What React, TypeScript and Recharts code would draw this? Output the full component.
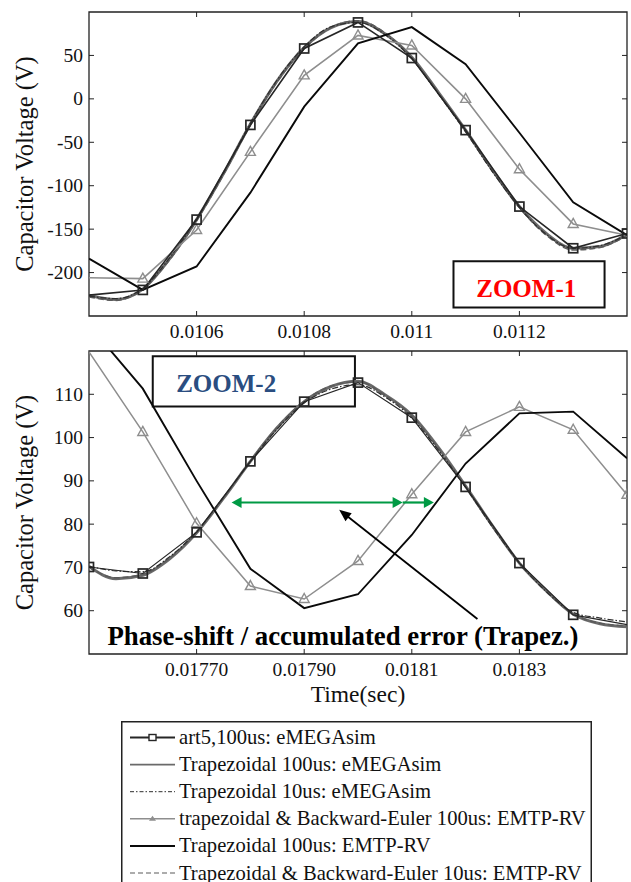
import React from 'react';
import { LineChart, Line, XAxis, YAxis, ReferenceArea, ReferenceLine, ReferenceDot } from 'recharts';

const SERIF = "'Liberation Serif','Times New Roman',serif";

// ---------------- ZOOM-1 (top) ----------------
const t100Zoom1 = [0.0104, 0.0105, 0.0106, 0.0107, 0.0108, 0.0109, 0.011, 0.0111, 0.0112, 0.0113, 0.0114];
const art5Zoom1 = [-226, -220, -139, -30, 58, 88, 47, -36, -124, -172, -155];
const trapBE100EmtpZoom1 = [-206, -207, -151, -61, 27, 73, 61.5, 0, -81, -144, -157];
const trap100EmtpZoom1 = [-184, -220, -193, -108, -9, 64, 82.6, 40, -39, -119, -157];

const t50Zoom1 = [0.0104, 0.01045, 0.0105, 0.01055, 0.0106, 0.01065, 0.0107, 0.01075, 0.0108, 0.01085, 0.0109,
  0.01095, 0.011, 0.01105, 0.0111, 0.01115, 0.0112, 0.01125, 0.0113, 0.01135, 0.0114];
const trap100EmegaZoom1 = [-226, -231, -219, -184, -139, -86, -29, 21, 59, 82, 89, 75, 48, 7, -36, -82, -124, -155, -172, -170, -156];
const trap10EmegaZoom1 = [-227, -230, -218, -183, -138, -85, -28, 22, 60, 83, 88, 74, 46, 5, -38, -84, -125, -156, -172, -169, -156];
const trapBE10EmtpZoom1 = [-228, -232, -219, -185, -140, -87, -30, 20, 58, 82, 90, 76, 47, 6, -37, -83, -125, -157, -174, -171, -157];

const xTicksZoom1 = [0.0106, 0.0108, 0.011, 0.0112];
const xTickLabelsZoom1 = ['0.0106', '0.0108', '0.011', '0.0112'];
const yTicksZoom1 = [-200, -150, -100, -50, 0, 50];

// ---------------- ZOOM-2 (bottom) ----------------
const t100Zoom2 = [0.0175, 0.0176, 0.0177, 0.0178, 0.0179, 0.018, 0.0181, 0.0182, 0.0183, 0.0184, 0.0185];
const art5Zoom2 = [70.1, 68.6, 78.1, 94.5, 108.3, 112.7, 104.6, 88.6, 71, 59.05, 56.8];
const trapBE100EmtpZoom2 = [119.8, 101.3, 80.2, 65.7, 62.7, 71.5, 86.9, 101.3, 107.1, 101.8, 86.8];
const trap100EmtpZoom2 = [126, 111.3, 90, 69.7, 60.6, 63.8, 77.5, 94, 105.6, 106, 95.2];

const t50Zoom2 = [0.0175, 0.01755, 0.0176, 0.01765, 0.0177, 0.01775, 0.0178, 0.01785, 0.0179, 0.01795, 0.018,
  0.01805, 0.0181, 0.01815, 0.0182, 0.01825, 0.0183, 0.01835, 0.0184, 0.01845, 0.0185];
const trap100EmegaZoom2 = [70.2, 67.4, 68.2, 72, 78, 86, 94.5, 102.3, 108.3, 111.8, 113, 109.9, 105.2, 97.6, 88.8, 79.6, 71, 64.6, 59.2, 57, 56.3];
const trap10EmegaZoom2 = [70.3, 69.2, 69, 72.5, 78.3, 86.2, 94.5, 102, 108, 111.2, 112.2, 109.4, 104.5, 97, 88.5, 79.3, 71, 64.4, 59.6, 58.3, 57.4];
const trapBE10EmtpZoom2 = [70.1, 67.6, 68.4, 72.2, 78.1, 86.1, 94.6, 102.4, 108.4, 111.9, 112.9, 109.8, 105, 97.4, 88.6, 79.5, 71.1, 64.5, 59.3, 57.1, 56.5];

const xTicksZoom2 = [0.0177, 0.0179, 0.0181, 0.0183];
const xTickLabelsZoom2 = ['0.01770', '0.01790', '0.0181', '0.0183'];
const yTicksZoom2 = [60, 70, 80, 90, 100, 110];

// ---------------- legend ----------------
const legendNames = [
  'art5,100us: eMEGAsim',
  'Trapezoidal 100us: eMEGAsim',
  'Trapezoidal 10us: eMEGAsim',
  'trapezoidal & Backward-Euler 100us: EMTP-RV',
  'Trapezoidal 100us: EMTP-RV',
  'Trapezoidal & Backward-Euler 10us: EMTP-RV',
];

const C_ART5 = '#262626';
const C_TRAP100EMEGA = '#6a6a6a';
const C_TRAP10EMEGA = '#2e2e2e';
const C_BE100 = '#8e8e8e';
const C_TRAP100EMTP = '#0a0a0a';
const C_BE10 = '#5a5a5a';

const rows = (ts: number[], vs: number[]) => ts.map((t, i) => ({ t, v: vs[i] }));

const squareDot = (hidden: number[]) => (p: any) => {
  const { cx, cy, index } = p;
  if (hidden.includes(index) || cx == null || cy == null) return <g key={`s${index}`} />;
  return <rect key={`s${index}`} x={cx - 4.5} y={cy - 4.5} width={9} height={9} fill="none" stroke={C_ART5} strokeWidth={1.7} />;
};

const triDot = (hidden: number[]) => (p: any) => {
  const { cx, cy, index } = p;
  if (hidden.includes(index) || cx == null || cy == null) return <g key={`t${index}`} />;
  return (
    <path key={`t${index}`} d={`M${cx},${cy - 5.5} L${cx + 5},${cy + 3.5} L${cx - 5},${cy + 3.5} Z`}
      fill="none" stroke={C_BE100} strokeWidth={1.4} />
  );
};

const makeXTick = (labels: string[], plotH: number) => (p: any) => {
  const { x, y, index } = p;
  return (
    <g key={`xt${index}`}>
      <line x1={x} x2={x} y1={y} y2={y - 5} stroke="#222" strokeWidth={1} />
      <line x1={x} x2={x} y1={y - plotH} y2={y - plotH + 5} stroke="#222" strokeWidth={1} />
      <text x={x} y={y + 22} textAnchor="middle" fontSize={19.5} fontFamily={SERIF} fill="#111">{labels[index]}</text>
    </g>
  );
};

const makeYTick = (plotW: number) => (p: any) => {
  const { x, y, payload, index } = p;
  return (
    <g key={`yt${index}`}>
      <line x1={x} x2={x + 5} y1={y} y2={y} stroke="#222" strokeWidth={1} />
      <line x1={x + plotW} x2={x + plotW - 5} y1={y} y2={y} stroke="#222" strokeWidth={1} />
      <text x={x - 6} y={y} dy={6.5} textAnchor="end" fontSize={19.5} fontFamily={SERIF} fill="#111">{payload.value}</text>
    </g>
  );
};

const arrowShape = (color: string, w: number, len: number, half: number, start: boolean, end: boolean) => (p: any) => {
  const { x1, y1, x2, y2 } = p;
  const dx = x2 - x1;
  const dy = y2 - y1;
  const L = Math.sqrt(dx * dx + dy * dy) || 1;
  const ux = dx / L;
  const uy = dy / L;
  const head = (tx: number, ty: number, dirx: number, diry: number) => {
    const bx = tx - dirx * len;
    const by = ty - diry * len;
    const nx = -diry * half;
    const ny = dirx * half;
    return `M${tx},${ty} L${bx + nx},${by + ny} L${bx - nx},${by - ny} Z`;
  };
  return (
    <g>
      <line x1={start ? x1 + ux * len * 0.8 : x1} y1={start ? y1 + uy * len * 0.8 : y1}
        x2={end ? x2 - ux * len * 0.8 : x2} y2={end ? y2 - uy * len * 0.8 : y2} stroke={color} strokeWidth={w} />
      {start && <path d={head(x1, y1, -ux, -uy)} fill={color} stroke="none" />}
      {end && <path d={head(x2, y2, ux, uy)} fill={color} stroke="none" />}
    </g>
  );
};

const textShape = (text: string, color: string, size: number, dyv: number) => (p: any) => (
  <text x={p.cx} y={p.cy} dy={dyv} textAnchor="middle" fontSize={size} fontWeight="bold" fontFamily={SERIF} fill={color}>{text}</text>
);

const TOP_H = 345;
const TOP_MARGIN = { top: 12, right: 4, bottom: 0, left: 0 };
const TOP_XH = 29;
const BOT_H = 375;
const BOT_MARGIN = { top: 11, right: 4, bottom: 0, left: 0 };
const BOT_XH = 61;
const PLOT_W = 631 - 89 - 4;

const yLabel = {
  value: 'Capacitor Voltage (V)', angle: -90, position: 'insideLeft', offset: 24,
  style: { textAnchor: 'middle', fontSize: 24.5, fontFamily: SERIF, fill: '#111' },
} as any;

function TopChart() {
  const plotH = TOP_H - TOP_MARGIN.top - TOP_XH;
  return (
    <LineChart width={631} height={TOP_H} margin={TOP_MARGIN}>
      <XAxis dataKey="t" type="number" domain={[0.0104, 0.0114]} allowDataOverflow ticks={xTicksZoom1} interval={0}
        height={TOP_XH} axisLine={false} tickLine={false} tickSize={0} tickMargin={0} tick={makeXTick(xTickLabelsZoom1, plotH)} />
      <YAxis type="number" domain={[-250, 100]} allowDataOverflow ticks={yTicksZoom1} interval={0} width={89}
        axisLine={false} tickLine={false} tickSize={0} tickMargin={0} tick={makeYTick(PLOT_W)} label={yLabel} />
      <Line data={rows(t50Zoom1, trap100EmegaZoom1)} dataKey="v" type="monotone" stroke={C_TRAP100EMEGA} strokeWidth={3} dot={false} isAnimationActive={false} />
      <Line data={rows(t50Zoom1, trapBE10EmtpZoom1)} dataKey="v" type="monotone" stroke={C_BE10} strokeWidth={1.6} strokeDasharray="6 3" dot={false} isAnimationActive={false} />
      <Line data={rows(t50Zoom1, trap10EmegaZoom1)} dataKey="v" type="monotone" stroke={C_TRAP10EMEGA} strokeWidth={1.2} strokeDasharray="6 2 1.5 2" dot={false} isAnimationActive={false} />
      <Line data={rows(t100Zoom1, trapBE100EmtpZoom1)} dataKey="v" type="linear" stroke={C_BE100} strokeWidth={1.6} dot={triDot([0, 10])} isAnimationActive={false} />
      <Line data={rows(t100Zoom1, trap100EmtpZoom1)} dataKey="v" type="linear" stroke={C_TRAP100EMTP} strokeWidth={1.9} dot={false} isAnimationActive={false} />
      <Line data={rows(t100Zoom1, art5Zoom1)} dataKey="v" type="linear" stroke={C_ART5} strokeWidth={1.6} dot={squareDot([0])} isAnimationActive={false} />
      <ReferenceArea x1={0.0104} x2={0.0114} y1={-250} y2={100} fill="none" stroke="#222" strokeWidth={1.3} ifOverflow="visible" />
      <ReferenceArea x1={0.0110775} x2={0.0113583} y1={-240.3} y2={-187} fill="#fff" fillOpacity={1} stroke="#111" strokeWidth={2} ifOverflow="visible" />
      <ReferenceDot x={0.0112127} y={-218.9} ifOverflow="visible" shape={textShape('ZOOM-1', '#ff0000', 25, 8.5)} />
    </LineChart>
  );
}

function BottomChart() {
  const plotH = BOT_H - BOT_MARGIN.top - BOT_XH;
  return (
    <LineChart width={631} height={BOT_H} margin={BOT_MARGIN}>
      <XAxis dataKey="t" type="number" domain={[0.0175, 0.0185]} allowDataOverflow ticks={xTicksZoom2} interval={0}
        height={BOT_XH} axisLine={false} tickLine={false} tickSize={0} tickMargin={0} tick={makeXTick(xTickLabelsZoom2, plotH)}
        label={{ value: 'Time(sec)', position: 'insideBottom', offset: 13, style: { fontSize: 23.5, fontFamily: SERIF, fill: '#111' } } as any} />
      <YAxis type="number" domain={[50, 120]} allowDataOverflow ticks={yTicksZoom2} interval={0} width={89}
        axisLine={false} tickLine={false} tickSize={0} tickMargin={0} tick={makeYTick(PLOT_W)} label={yLabel} />
      <Line data={rows(t50Zoom2, trap100EmegaZoom2)} dataKey="v" type="monotone" stroke={C_TRAP100EMEGA} strokeWidth={3} dot={false} isAnimationActive={false} />
      <Line data={rows(t50Zoom2, trapBE10EmtpZoom2)} dataKey="v" type="monotone" stroke={C_BE10} strokeWidth={1.6} strokeDasharray="6 3" dot={false} isAnimationActive={false} />
      <Line data={rows(t50Zoom2, trap10EmegaZoom2)} dataKey="v" type="monotone" stroke={C_TRAP10EMEGA} strokeWidth={1.2} strokeDasharray="6 2 1.5 2" dot={false} isAnimationActive={false} />
      <Line data={rows(t100Zoom2, trapBE100EmtpZoom2)} dataKey="v" type="linear" stroke={C_BE100} strokeWidth={1.5} dot={triDot([0])} isAnimationActive={false} />
      <Line data={rows(t100Zoom2, trap100EmtpZoom2)} dataKey="v" type="linear" stroke={C_TRAP100EMTP} strokeWidth={1.9} dot={false} isAnimationActive={false} />
      <Line data={rows(t100Zoom2, art5Zoom2)} dataKey="v" type="linear" stroke={C_ART5} strokeWidth={1.2} dot={squareDot([10])} isAnimationActive={false} />
      <ReferenceArea x1={0.0175} x2={0.0185} y1={50} y2={120} fill="none" stroke="#222" strokeWidth={1.3} ifOverflow="visible" />
      <ReferenceArea x1={0.0176185} x2={0.0179943} y1={107.15} y2={118.76} fill="#fff" fillOpacity={1} stroke="#111" strokeWidth={2} ifOverflow="visible" />
      <ReferenceDot x={0.017755} y={112.4} ifOverflow="visible" shape={textShape('ZOOM-2', '#2a4d80', 25, 8.5)} />
      <ReferenceLine segment={[{ x: 0.017765, y: 85 }, { x: 0.018083, y: 85 }]} ifOverflow="visible" stroke="#009a44"
        shape={arrowShape('#009a44', 2.2, 10, 5.5, true, true)} />
      <ReferenceLine segment={[{ x: 0.018083, y: 85 }, { x: 0.018141, y: 85 }]} ifOverflow="visible" stroke="#009a44"
        shape={arrowShape('#009a44', 2.2, 10, 5.5, false, true)} />
      <ReferenceLine segment={[{ x: 0.018222, y: 58.1 }, { x: 0.017965, y: 83.3 }]} ifOverflow="visible" stroke="#000"
        shape={arrowShape('#000', 1.8, 12, 5, false, true)} />
      <ReferenceDot x={0.017972} y={52.18} ifOverflow="visible" shape={textShape('Phase-shift / accumulated error (Trapez.)', '#000', 26.8, 0)} />
    </LineChart>
  );
}

function LegendBox() {
  const rowY = (i: number) => 16.5 + i * 27.1;
  const x1 = 9;
  const x2 = 54;
  const mid = (x1 + x2) / 2;
  const samples = [
    <g key="l0">
      <line x1={x1} x2={x2} y1={rowY(0)} y2={rowY(0)} stroke={C_ART5} strokeWidth={2} />
      <rect x={mid - 3.5} y={rowY(0) - 3} width={7} height={6} fill="#fff" stroke={C_ART5} strokeWidth={1.4} />
    </g>,
    <line key="l1" x1={x1} x2={x2} y1={rowY(1)} y2={rowY(1)} stroke={C_TRAP100EMEGA} strokeWidth={1.6} />,
    <line key="l2" x1={x1} x2={x2} y1={rowY(2)} y2={rowY(2)} stroke={C_TRAP10EMEGA} strokeWidth={1} strokeDasharray="4 2 1.5 2" />,
    <g key="l3">
      <line x1={x1} x2={x2} y1={rowY(3)} y2={rowY(3)} stroke={C_BE100} strokeWidth={1.6} />
      <path d={`M${mid},${rowY(3) - 3} L${mid + 3.5},${rowY(3) + 2} L${mid - 3.5},${rowY(3) + 2} Z`} fill={C_BE100} />
    </g>,
    <line key="l4" x1={x1} x2={x2} y1={rowY(4)} y2={rowY(4)} stroke={C_TRAP100EMTP} strokeWidth={2} />,
    <line key="l5" x1={x1} x2={x2} y1={rowY(5)} y2={rowY(5)} stroke={C_BE10} strokeWidth={1.2} strokeDasharray="5 3" />,
  ];
  return (
    <svg width={471} height={161} style={{ position: 'absolute', left: 121, top: 721 }}>
      <rect x={0.75} y={0.75} width={469.5} height={220} fill="#fff" stroke="#222" strokeWidth={1.5} />
      {samples}
      {legendNames.map((n, i) => (
        <text key={n} x={58} y={rowY(i) + 6.5} fontSize={20.6} fontFamily={SERIF} fill="#111">{n}</text>
      ))}
    </svg>
  );
}

export default function App() {
  return (
    <div style={{ position: 'absolute', left: 0, top: 0, width: 631, height: 882, background: '#fff', overflow: 'hidden' }}>
      <div style={{ position: 'absolute', left: 0, top: 0 }}>
        <TopChart />
      </div>
      <div style={{ position: 'absolute', left: 0, top: 340 }}>
        <BottomChart />
      </div>
      <LegendBox />
    </div>
  );
}
